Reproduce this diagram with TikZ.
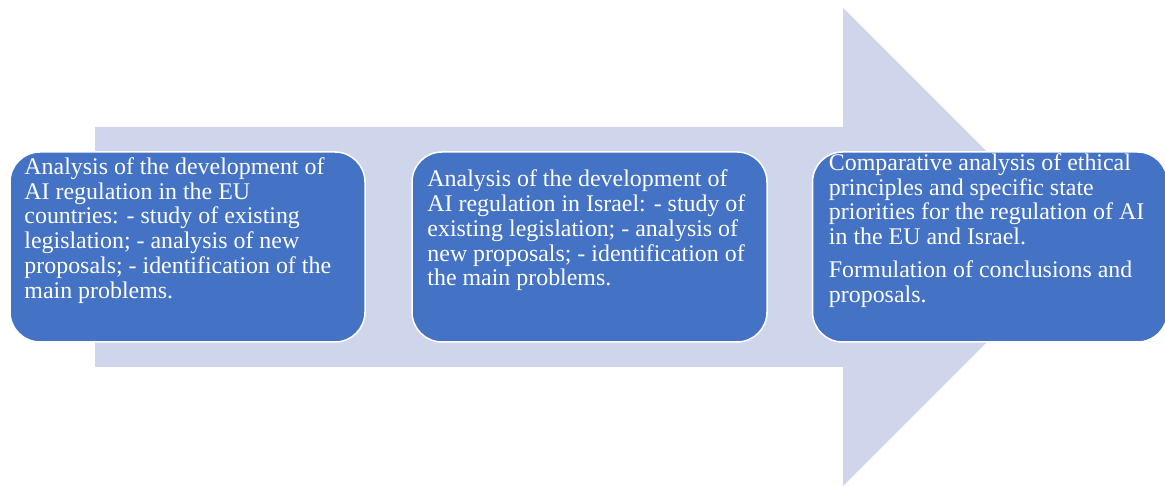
\documentclass[tikz,border=0pt]{standalone}
\usepackage{fontspec}
\setmainfont{Liberation Serif}
\usepackage{xcolor}
\usepackage{tikz}
\usetikzlibrary{positioning}
\definecolor{arrowfill}{HTML}{CFD5EA}
\definecolor{stageblue}{HTML}{4472C4}

\begin{document}
\begin{tikzpicture}[x=1pt, y=-1pt, font=\fontsize{23.9}{24.8}\selectfont]
	\tikzstyle{stage} = [draw=white, line width=1.5pt, fill=stageblue, rectangle, rounded corners=30pt, minimum width=355pt, minimum height=190pt]
	\tikzstyle{stagetext} = [text=white, align=left, inner sep=0pt, anchor=west]

	\useasboundingbox (0, 0) rectangle (1165, 486);
	% background arrow
	\fill[arrowfill] (95, 127) -- (843, 127) -- (843, 8) -- (1082, 247) -- (843, 486) -- (843, 367) -- (95, 367) -- cycle;

	\node[stage]		at (187.5, 247)		(s1)	{};
	\node[stage]		at (589.5, 247)		(s2)	{};
	\node[stage]		at (990, 247)		(s3)	{};

	\node[stagetext]	at ([xshift=15pt, yshift=16.5pt]s1.west)	(t1)	{Analysis of the development of\\AI regulation in the EU\\countries: - study of existing\\legislation; - analysis of new\\proposals; - identification of the\\main problems.};
	\node[stagetext]	at ([xshift=16pt, yshift=16.5pt]s2.west)	(t2)	{Analysis of the development of\\AI regulation in Israel: - study of\\existing legislation; - analysis of\\new proposals; - identification of\\the main problems.};
	\node[stagetext]	at ([xshift=17pt, yshift=16.5pt]s3.west)	(t3)	{Comparative analysis of ethical\\principles and specific state\\priorities for the regulation of AI\\in the EU and Israel.\\[8pt]Formulation of conclusions and\\proposals.};
\end{tikzpicture}
\end{document}
